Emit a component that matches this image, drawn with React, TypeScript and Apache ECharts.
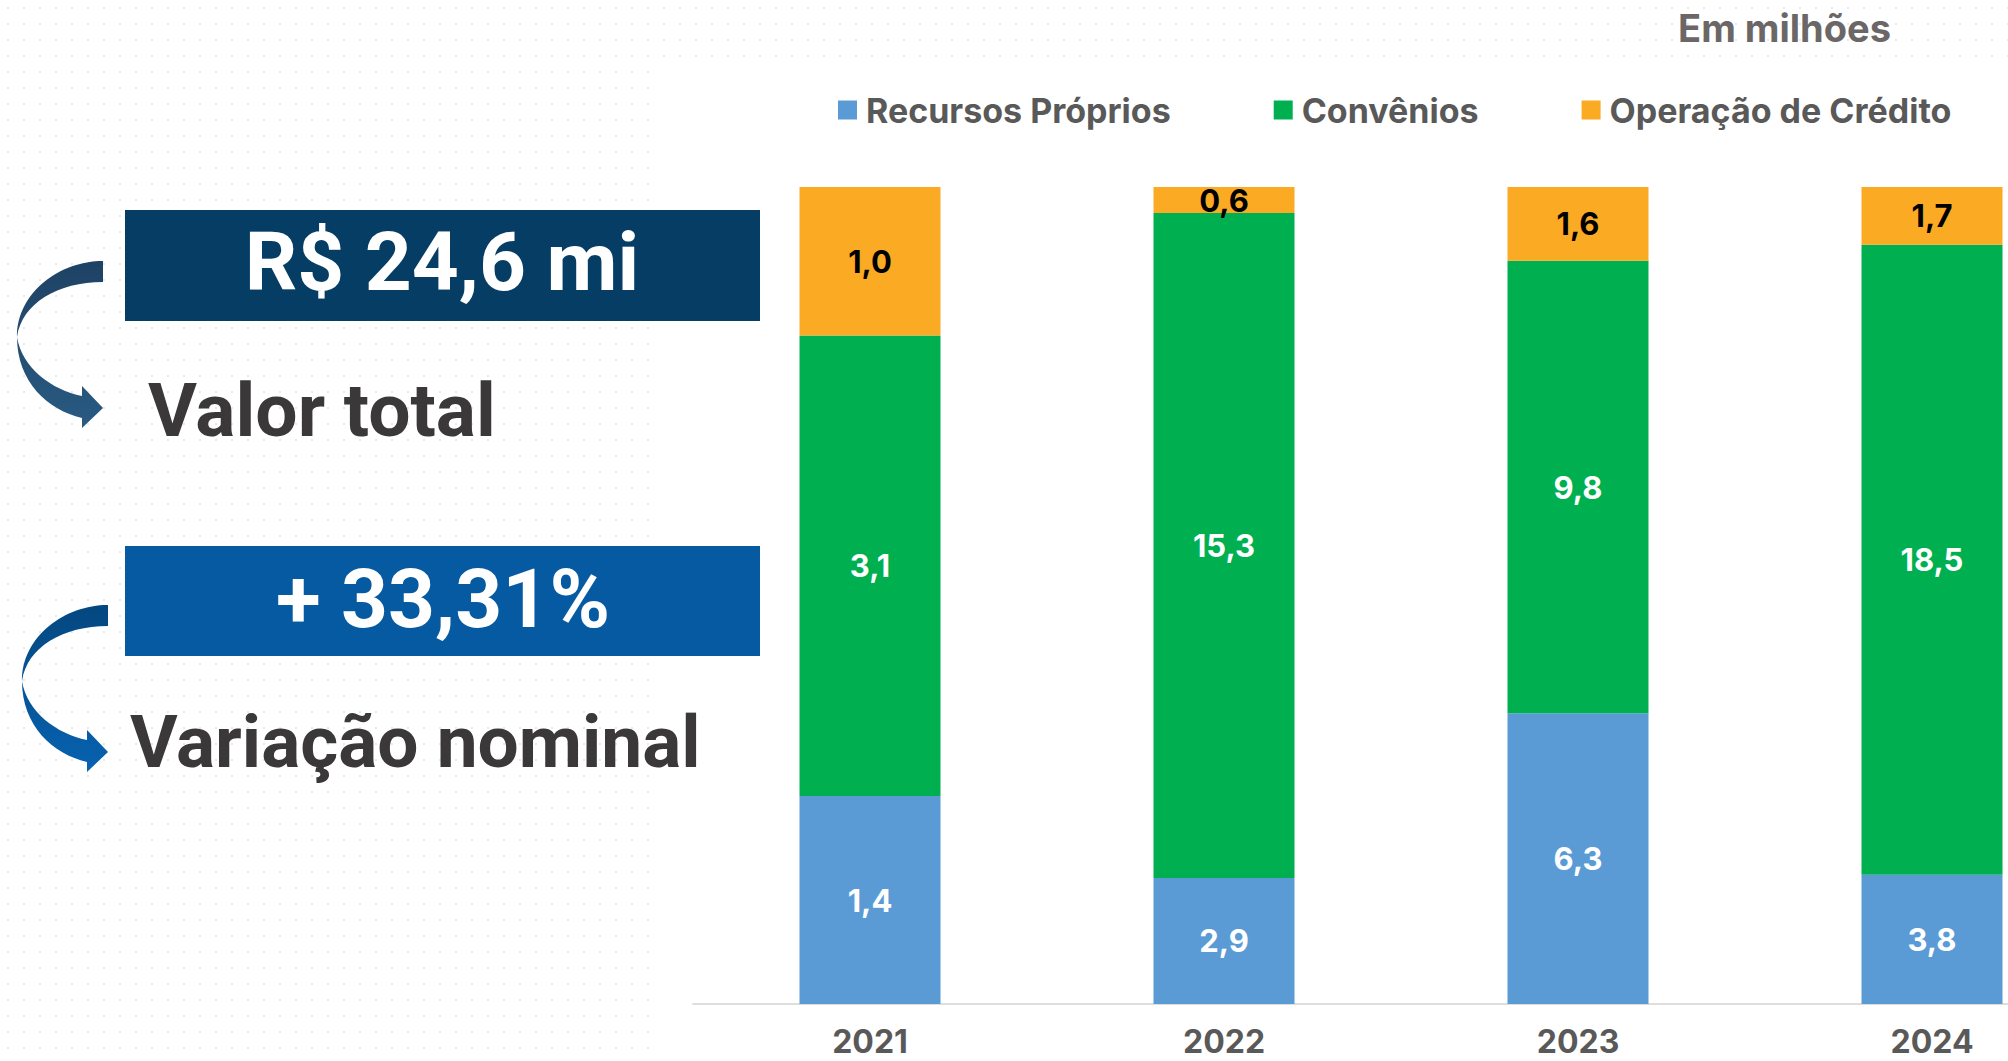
import React, { useEffect, useRef } from "react";
import * as echarts from "echarts";

const years = ["2021", "2022", "2023", "2024"];
const seriesNames = ["Recursos Próprios", "Convênios", "Operação de Crédito"];
const recursosProprios = [1.4, 2.9, 6.3, 3.8];
const convenios = [3.1, 15.3, 9.8, 18.5];
const operacaoCredito = [1.0, 0.6, 1.6, 1.7];
const seriesColors = ["#5b9bd5", "#00b050", "#fbaa24"];
const labelColors = ["#ffffff", "#ffffff", "#000000"];

const totalText = "R$ 24,6 mi";
const totalCaption = "Valor total";
const variationText = "+ 33,31%";
const variationCaption = "Variação nominal";
const unitText = "Em milhões";

const ARROW_D =
  "M103,261 C60,261 17,292 17,337 C17,382 48,410 82,418 L82,428 L103,408 L82,386 L82,396 C52,390 22,368 17,337 C22,303 58,282 103,282 Z";

let registered = false;
function ensureShape() {
  if (registered) return;
  echarts.graphic.registerShape("curvedArrow", echarts.graphic.extendPath(ARROW_D, {}) as any);
  registered = true;
}

const CHART_W = 2120;

export default function App() {
  const ref = useRef<HTMLDivElement>(null);

  useEffect(() => {
    if (!ref.current) return;
    ensureShape();
    const chart = echarts.init(ref.current, undefined, { renderer: "svg" });
    const raw = [recursosProprios, convenios, operacaoCredito];
    const totals = years.map((_, i) => raw.reduce((s, arr) => s + arr[i], 0));
    const fmt = (v: number) => v.toFixed(1).replace(".", ",");

    const series = raw.map((arr, si) => ({
      name: seriesNames[si],
      type: "bar",
      stack: "total",
      barWidth: 141,
      data: arr.map((v, i) => (v / totals[i]) * 100),
      itemStyle: { color: seriesColors[si] },
      label: {
        show: true,
        position: "inside",
        color: labelColors[si],
        fontFamily: "Inter",
        fontWeight: 700,
        fontSize: 31,
        formatter: (p: any) => fmt(arr[p.dataIndex]),
      },
    }));

    const textFont = (size: number) => `700 ${size}px Roboto`;

    chart.setOption({
      animation: false,
      backgroundColor: "transparent",
      legend: {
        left: 833,
        top: 88,
        icon: "rect",
        itemWidth: 19,
        itemHeight: 19,
        itemGap: 103,
        data: seriesNames,
        textStyle: {
          fontFamily: "Inter",
          fontWeight: 700,
          fontSize: 34,
          color: "#595959",
          lineHeight: 34,
          padding: [0, 0, 0, 4],
        },
      },
      grid: { left: 693, right: CHART_W - 693 - 1416, top: 187, bottom: 57, containLabel: false },
      xAxis: {
        type: "category",
        data: years,
        axisLine: { lineStyle: { color: "#dedede", width: 2 } },
        axisTick: { show: false },
        axisLabel: {
          margin: 23,
          color: "#595959",
          fontFamily: "Inter",
          fontWeight: 700,
          fontSize: 32,
          lineHeight: 28,
        },
      },
      yAxis: { type: "value", min: 0, max: 100, show: false, splitLine: { show: false } },
      series,
      graphic: [
        { type: "rect", z: -10, shape: { x: 660, y: 62, width: 1500, height: 1000 }, style: { fill: "#ffffff" } },
        { type: "rect", shape: { x: 125, y: 210, width: 635, height: 111 }, style: { fill: "#053d64" } },
        { type: "rect", shape: { x: 125, y: 546, width: 635, height: 110 }, style: { fill: "#065aa2" } },
        {
          type: "text",
          style: { text: totalText, x: 442, y: 262, font: textFont(82), fill: "#ffffff", textAlign: "center", textVerticalAlign: "middle" },
        },
        {
          type: "text",
          style: { text: variationText, x: 443, y: 599, font: textFont(82), fill: "#ffffff", textAlign: "center", textVerticalAlign: "middle" },
        },
        {
          type: "text",
          style: { text: totalCaption, x: 148, y: 410, font: textFont(75), fill: "#3a3838", textAlign: "left", textVerticalAlign: "middle" },
        },
        {
          type: "text",
          style: { text: variationCaption, x: 130, y: 742, font: textFont(73), fill: "#3a3838", textAlign: "left", textVerticalAlign: "middle" },
        },
        {
          type: "text",
          style: { text: unitText, x: 1891, y: 28, font: "700 38px Inter", fill: "#6b6767", textAlign: "right", textVerticalAlign: "middle" },
        },
        {
          type: "curvedArrow",
          x: 0,
          y: 0,
          style: {
            fill: new echarts.graphic.LinearGradient(0, 0, 0, 1, [
              { offset: 0, color: "#1e4264" },
              { offset: 1, color: "#295a82" },
            ]),
          },
        },
        {
          type: "curvedArrow",
          x: 5,
          y: 344,
          style: {
            fill: new echarts.graphic.LinearGradient(0, 0, 0, 1, [
              { offset: 0, color: "#044780" },
              { offset: 1, color: "#0762b0" },
            ]),
          },
        },
      ],
    });
    return () => chart.dispose();
  }, []);

  return (
    <div
      style={{
        position: "fixed",
        left: 0,
        top: 0,
        width: 2008,
        height: 1061,
        overflow: "hidden",
        backgroundColor: "#ffffff",
        backgroundImage: "radial-gradient(circle, #e9e9e9 1px, transparent 1.3px)",
        backgroundSize: "16px 16px",
      }}
    >
      <div ref={ref} style={{ width: CHART_W, height: 1061 }} />
    </div>
  );
}
